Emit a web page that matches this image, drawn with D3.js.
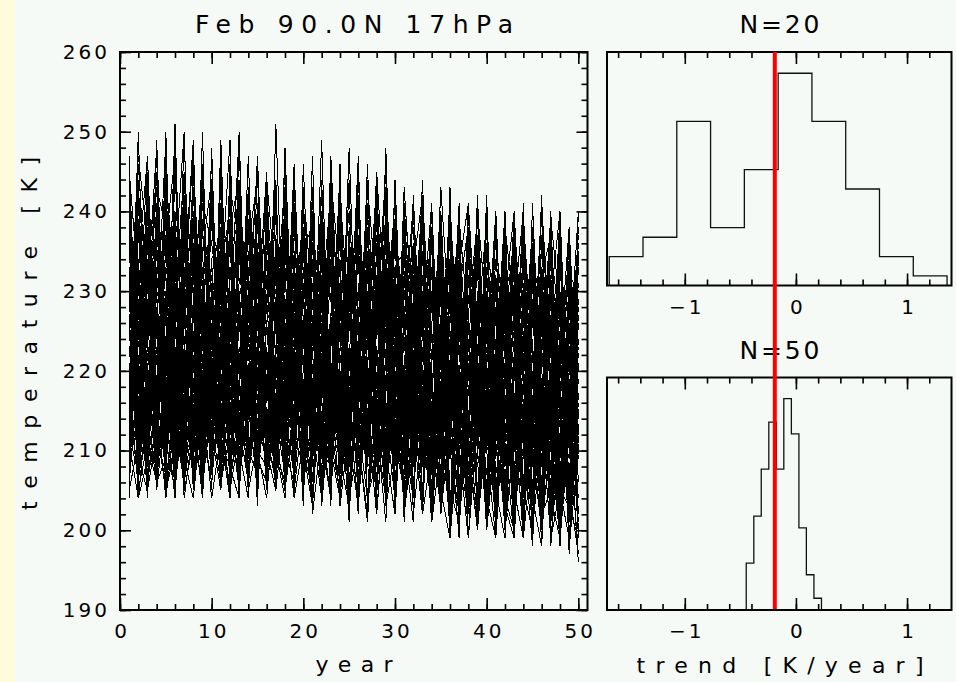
<!DOCTYPE html>
<html>
<head>
<meta charset="utf-8">
<script src="https://cdn.jsdelivr.net/npm/d3@7"></script>
<style>
  html, body { margin: 0; padding: 0; background: #f5faf7; }
  svg { display: block; }
  text { font-family: "DejaVu Sans", sans-serif; fill: #000; }
</style>
</head>
<body>
<div id="app"></div>
<script>
// years of each run
const years = d3.range(1, 51);

// Feb temperature at 90N 17hPa, one row per run (K)
const runs = [
  [231,214,245,208,222,239,206,218,233,212,241,209,226,215,236,207,229,243,211,220,234,203,217,238,213,227,209,240,221,204,232,216,244,210,225,199,219,235,204,228,214,237,200,222,211,230,198,217,233,202],
  [207,226,212,249,215,204,233,221,209,242,218,230,205,224,247,213,208,235,219,226,210,243,204,229,216,202,238,222,211,231,203,219,241,208,226,213,199,234,217,205,228,201,239,212,198,224,215,203,231,199],
  [219,205,238,227,210,246,213,225,207,231,216,204,244,222,211,235,206,223,240,209,217,228,212,246,202,220,233,215,205,239,224,210,218,201,236,213,226,202,242,211,219,200,230,204,223,198,236,214,201,226],
  [244,218,206,232,221,211,250,209,227,215,236,207,219,232,204,226,213,248,217,208,224,237,210,219,201,231,214,227,245,208,216,229,203,221,238,210,202,224,215,233,199,220,210,241,203,218,229,199,214,236],
  [212,237,224,205,243,216,208,229,245,210,222,213,238,206,220,229,243,207,215,225,209,236,219,203,228,242,211,217,204,233,214,224,209,237,202,218,229,212,202,225,237,204,215,199,227,211,220,198,232,210],
  [205,211,229,218,207,227,240,215,204,224,209,246,215,228,210,204,219,231,224,203,240,213,226,215,236,205,221,209,228,214,241,204,222,215,203,230,211,240,220,200,215,226,213,235,198,230,202,221,205,197],
  [226,208,215,241,204,219,212,233,207,248,211,206,223,216,205,241,228,210,206,233,215,209,247,220,208,212,230,202,219,243,209,215,226,205,213,238,200,221,205,216,232,203,199,219,236,200,212,228,197,217],
  [209,233,247,212,206,216,228,205,219,211,230,249,208,214,227,212,206,220,246,211,229,205,215,239,211,203,218,227,210,202,221,232,208,214,227,200,239,205,217,201,222,211,234,202,214,241,199,205,222,213],
  [240,206,219,209,230,205,217,243,212,206,221,214,208,235,219,245,210,204,227,216,205,219,234,209,221,247,203,214,212,224,208,236,213,203,218,242,210,202,229,214,204,220,199,231,210,201,217,237,203,199],
  [215,222,204,236,213,228,205,211,238,220,206,225,250,210,207,219,233,214,204,240,222,211,204,226,216,235,208,210,241,217,203,213,229,219,204,211,232,199,214,240,205,218,225,199,211,219,202,234,211,223],
  [232,210,221,206,250,209,214,222,206,215,244,210,218,206,231,211,222,209,235,206,213,244,208,218,230,211,202,236,215,209,226,210,238,201,210,224,215,203,236,210,199,229,213,204,238,214,199,211,226,200],
  [204,243,210,223,217,234,208,247,216,204,212,237,206,221,213,209,251,218,212,208,227,216,238,203,213,221,209,245,205,219,211,201,235,225,212,203,220,199,213,229,217,200,211,230,201,216,240,205,199,217],
  [221,214,232,206,209,245,219,206,224,213,233,205,212,242,208,223,205,216,229,212,247,204,219,211,234,204,225,213,201,231,219,208,216,241,205,199,213,226,205,221,201,236,205,213,224,198,221,213,202,240],
  [237,205,211,240,226,206,221,213,250,207,218,227,210,204,239,217,212,226,206,219,211,232,203,243,219,209,213,223,204,217,235,213,202,210,233,214,218,202,227,200,212,219,235,200,217,210,227,198,219,204],
  [210,228,206,214,209,233,250,211,206,228,205,219,230,215,209,206,237,211,244,214,203,226,213,209,222,217,241,204,232,211,205,220,240,209,214,229,202,212,241,216,203,224,200,216,205,231,211,201,216,229],
  [218,246,227,208,236,213,207,228,211,244,216,208,204,227,213,234,208,220,211,238,218,205,213,234,204,211,229,219,212,243,201,227,211,217,203,220,236,214,201,212,227,200,219,240,204,198,224,217,201,213],
  [246,212,208,226,214,220,211,239,205,218,209,233,221,211,246,205,215,242,210,213,231,219,209,216,248,213,204,209,221,226,214,241,219,204,223,210,200,232,218,203,240,213,205,221,199,227,204,219,236,211],
  [206,220,236,213,205,210,242,216,230,209,249,213,206,235,219,210,226,205,214,236,202,212,227,217,210,230,213,241,204,222,208,215,204,229,211,243,204,221,210,232,211,202,216,205,229,213,238,199,212,228],
  [227,207,213,248,211,231,209,204,216,234,207,221,243,209,222,214,210,239,208,227,216,249,210,204,223,208,219,210,237,202,228,211,242,213,205,216,223,211,200,219,214,233,203,225,212,242,202,223,198,215],
  [213,239,217,209,229,204,226,218,208,213,225,241,208,220,206,232,219,212,223,206,238,209,216,231,205,220,244,214,209,214,204,234,210,222,240,200,213,217,233,202,220,205,229,212,202,218,213,227,205,235],
  [208,215,223,211,242,218,205,234,213,221,206,212,217,247,210,208,223,216,233,210,205,219,241,212,215,203,233,218,211,227,202,212,220,203,238,216,210,199,220,213,232,204,200,222,215,205,232,202,213,197],
  [236,209,205,219,213,251,212,209,227,205,238,216,210,213,223,206,244,209,218,229,213,204,221,208,238,212,216,231,203,210,224,217,232,208,213,219,241,202,215,227,205,199,238,210,220,202,215,240,204,221],
  [211,227,240,207,218,209,223,206,214,247,212,204,229,217,208,221,211,233,205,215,242,210,205,226,213,245,209,222,214,204,236,202,213,218,229,205,201,222,211,242,202,216,213,205,233,218,201,212,223,202],
  [247,213,209,228,206,215,236,210,221,207,216,230,213,206,234,212,219,209,241,207,214,227,210,219,204,222,211,205,240,218,212,229,204,241,214,203,211,237,200,215,222,206,219,238,200,212,206,221,214,196],
  [216,206,231,214,210,222,208,246,209,216,227,208,240,211,215,209,229,206,213,222,209,234,216,211,229,214,208,235,210,222,216,209,230,201,217,212,227,213,221,204,199,218,226,203,215,230,204,199,225,210],
  [205,232,218,221,245,207,216,221,235,212,205,218,209,225,203,243,213,214,207,231,220,213,204,242,211,228,203,216,219,208,240,221,209,215,204,233,210,218,212,226,214,237,201,216,205,222,212,238,202,219],
  [229,211,243,205,216,227,204,213,210,229,216,243,214,208,219,211,207,225,217,242,210,216,232,204,219,210,237,208,225,213,209,219,202,230,209,224,204,212,242,201,228,212,214,234,210,200,219,206,230,212],
  [212,225,209,216,204,214,231,249,206,221,211,208,226,238,209,217,235,211,209,215,226,205,212,219,209,236,214,202,217,239,211,204,225,211,221,203,216,235,204,211,219,228,211,201,241,214,225,202,217,200],
  [241,216,206,238,223,206,217,210,226,207,234,212,219,205,227,245,209,218,232,210,203,239,214,204,217,220,212,229,208,215,209,242,215,205,226,212,231,205,217,202,224,201,210,216,222,204,236,215,205,227],
  [207,238,214,210,230,217,211,224,207,241,209,215,205,229,216,208,213,247,210,225,213,209,227,214,244,205,215,221,212,233,204,213,217,224,210,238,203,214,228,212,202,214,240,204,212,233,201,217,211,213],
  [223,209,228,245,207,210,229,206,218,213,223,207,236,214,212,223,207,214,227,208,243,212,216,209,223,204,219,210,248,209,214,226,205,218,213,201,225,210,200,236,212,221,203,214,232,205,213,199,220,237],
  [214,250,211,206,219,238,213,219,205,226,210,239,211,217,241,209,221,206,213,218,210,225,205,231,209,211,224,239,204,220,213,208,228,204,216,224,212,241,203,218,200,232,215,205,200,222,214,230,198,210],
  [233,204,216,222,211,205,239,209,243,211,230,206,214,221,206,226,208,239,204,211,236,209,219,213,204,240,210,208,218,225,202,215,235,211,203,217,234,204,222,205,216,202,222,238,203,214,223,204,218,201],
  [206,219,208,233,227,212,207,236,213,206,219,212,249,206,224,213,216,208,222,213,205,219,245,211,232,208,218,209,230,208,221,211,209,237,222,210,202,218,212,223,210,214,227,201,219,211,240,205,203,224],
  [219,229,205,212,240,208,222,210,216,230,206,228,208,212,235,210,205,229,206,246,215,223,211,205,218,211,201,223,214,209,243,225,213,208,232,201,219,205,230,200,221,240,202,222,212,202,217,224,213,231],
  [243,207,222,217,210,229,245,214,208,222,213,210,221,233,207,217,241,210,221,205,225,210,208,228,214,223,209,212,204,244,215,204,223,212,218,229,211,224,202,215,240,211,199,229,211,219,204,235,201,216],
  [209,244,212,230,205,219,210,227,219,209,246,215,206,217,222,205,228,214,208,230,212,217,236,209,203,217,229,211,234,212,210,227,204,219,202,213,241,203,210,220,205,218,233,212,203,237,210,199,215,204],
  [225,212,234,208,218,206,214,240,211,219,208,222,229,205,211,238,214,207,245,215,208,231,213,220,210,227,209,242,209,216,224,208,214,233,205,220,201,214,226,205,231,203,217,202,228,210,220,216,234,199],
  [211,204,209,215,247,222,206,214,229,208,214,205,217,239,209,206,219,224,212,208,219,204,225,212,233,210,214,205,219,228,210,235,212,203,213,240,218,203,215,238,213,201,211,223,215,202,205,239,210,222],
  [238,221,207,213,209,236,219,207,245,214,228,209,211,208,218,229,210,206,216,238,203,221,211,215,209,214,246,211,227,205,218,210,239,209,223,211,204,227,213,202,217,226,205,199,233,216,203,212,221,217],
  [228,241,219,213,236,247,224,209,231,216,222,238,244,207,215,229,233,211,226,240,218,205,227,236,221,214,243,230,209,224,232,238,217,203,222,228,211,235,219,207,213,226,237,204,219,231,210,200,224,217],
  [212,207,226,243,238,219,229,248,214,222,235,217,211,228,246,221,208,219,237,230,206,224,239,215,229,212,220,245,226,203,219,232,225,209,240,216,228,204,213,236,227,209,215,239,222,203,230,218,206,233],
  [245,231,214,206,221,234,217,239,226,210,218,227,204,241,232,213,222,238,209,225,236,219,211,230,208,241,223,217,233,214,209,224,242,221,230,212,205,227,239,218,234,222,207,225,213,240,219,201,228,210],
  [209,218,232,225,249,213,206,223,241,236,227,210,221,235,218,229,244,207,214,231,224,238,216,209,235,227,204,219,240,229,214,205,229,236,217,209,233,241,222,204,219,238,228,212,201,226,234,215,221,240],
  [236,224,247,216,210,229,221,212,235,244,213,232,227,219,208,239,226,215,245,220,231,212,223,244,217,206,229,237,214,221,238,215,209,226,233,220,214,207,230,226,207,214,231,220,236,211,205,229,217,224],
  [219,233,208,238,227,217,244,230,207,225,240,221,230,212,233,207,217,229,223,211,215,229,242,225,202,223,234,211,228,238,227,236,213,230,206,240,223,218,208,216,230,203,220,214,226,235,222,209,238,199],
  [231,212,225,229,216,240,208,246,223,213,206,226,240,231,221,216,236,224,208,243,228,240,209,221,230,218,212,227,243,210,220,209,232,215,243,225,211,229,235,213,223,217,210,236,208,221,229,240,211,219],
  [224,247,236,210,242,224,230,215,219,239,229,208,218,243,225,234,211,205,230,218,210,232,218,228,212,237,225,206,219,233,235,221,226,241,212,229,237,220,203,228,215,230,234,202,227,218,213,224,233,206],
  [214,220,241,234,229,208,227,236,212,229,223,237,208,221,213,226,230,242,219,226,239,221,233,207,226,230,216,239,224,207,211,228,220,233,224,203,219,238,226,231,229,224,212,228,219,232,237,206,220,215],
  [241,207,218,223,213,237,211,220,244,218,216,212,234,226,240,211,223,232,213,236,220,214,227,240,219,209,235,214,231,225,226,241,204,218,230,215,227,211,237,221,240,211,224,217,231,208,226,214,209,229],
  [226,238,230,248,219,211,235,226,233,207,232,219,226,214,222,244,231,210,227,214,203,235,221,216,236,225,208,232,218,236,216,213,237,228,219,234,208,232,216,212,218,235,206,231,214,225,210,232,227,222],
  [217,228,211,219,233,226,242,205,228,241,209,230,217,238,228,219,205,236,221,228,226,207,244,232,213,219,238,221,210,216,240,230,216,209,237,222,231,214,225,239,211,220,238,224,209,236,216,223,202,235],
  [208,215,238,230,226,245,219,232,216,221,241,225,213,229,236,216,227,221,239,209,233,224,212,238,225,240,219,226,236,212,207,222,230,213,226,238,215,224,211,233,226,208,221,237,223,214,230,219,236,212],
  [233,226,222,214,244,231,215,240,224,211,224,243,236,210,219,231,239,226,212,233,214,229,236,204,231,216,227,243,220,229,230,218,239,224,210,226,234,207,228,219,221,232,217,209,234,228,207,225,214,238],
  [222,234,216,241,208,220,237,211,239,230,219,214,229,236,244,225,213,232,216,223,242,217,223,230,220,234,210,225,238,219,223,235,211,238,221,231,219,236,214,227,236,225,229,213,218,241,222,211,230,220],
  [237,219,244,224,232,214,228,221,211,234,237,228,222,217,211,237,226,240,225,213,217,231,206,242,227,211,232,218,227,241,212,227,235,217,234,209,239,226,220,210,213,219,233,227,205,222,239,228,217,226],
  [211,230,225,236,215,239,232,227,246,215,228,235,239,223,230,212,219,227,233,221,229,210,238,219,215,228,221,234,213,226,228,219,224,232,215,240,222,213,234,224,232,214,227,221,238,211,226,234,223,209],
  [230,242,213,227,237,223,210,235,218,227,210,222,231,238,216,228,242,216,224,238,236,225,216,228,240,221,213,229,242,222,236,211,228,221,229,217,230,238,209,230,220,237,215,233,212,228,218,205,232,230],
  [220,211,233,244,222,230,236,218,231,238,233,240,215,230,224,209,234,229,219,226,211,237,229,213,234,219,240,208,225,232,219,233,242,207,225,228,213,231,223,216,227,229,240,218,226,233,212,222,238,214],
  [243,223,229,212,236,218,227,243,221,232,225,218,243,227,235,222,211,238,229,217,224,232,219,234,211,237,226,216,232,208,231,225,215,236,213,230,226,219,240,227,209,223,228,240,215,220,235,226,211,234]
];

// histograms of trends (K/year)
const edges20 = [-1.68, -1.376, -1.072, -0.768, -0.464, -0.16, 0.144, 0.448, 0.752, 1.056, 1.36];
const counts20 = [3, 5, 17, 6, 12, 22, 17, 10, 3, 1];
const edges50 = [-0.447, -0.379, -0.312, -0.244, -0.176, -0.109, -0.041, 0.027, 0.094, 0.162, 0.23];
const counts50 = [4, 8, 12, 16, 12, 18, 15, 7, 3, 1];
const obsTrend = -0.19;

const width = 956;
const height = 682;

const main = { left: 120, right: 587.5, top: 52, bottom: 610 };
const hTop = { left: 607, right: 951.5, top: 52, bottom: 285.5 };
const hBot = { left: 607, right: 951.5, top: 377.5, bottom: 610 };

const svg = d3.select('#app')
  .append('svg')
  .attr('width', width)
  .attr('height', height);

svg.append('rect').attr('width', width).attr('height', height).attr('fill', '#f5faf7');
svg.append('rect').attr('width', 15).attr('height', height).attr('fill', '#fffcdb');

// ---- main panel ----
const x = d3.scaleLinear().domain([0, 51]).range([main.left, main.right]);
const y = d3.scaleLinear().domain([190, 260]).range([main.bottom, main.top]);

svg.append('clipPath').attr('id', 'clipMain')
  .append('rect')
  .attr('x', main.left).attr('y', main.top)
  .attr('width', main.right - main.left).attr('height', main.bottom - main.top);

const line = d3.line()
  .x((d, i) => x(years[i]))
  .y(d => y(d));

svg.append('g')
  .attr('clip-path', 'url(#clipMain)')
  .selectAll('path')
  .data(runs)
  .enter()
  .append('path')
  .attr('d', line)
  .attr('fill', 'none')
  .attr('stroke', '#000')
  .attr('stroke-width', 1)
  .attr('shape-rendering', 'crispEdges');

function styleAxis(g, labels) {
  g.select('.domain').remove();
  g.selectAll('line').attr('stroke', '#000').attr('stroke-width', 1.6);
  if (labels) {
    g.selectAll('text')
      .attr('font-family', '"DejaVu Sans", sans-serif')
      .attr('font-size', 20)
      .attr('letter-spacing', '3px')
      .attr('fill', '#000');
  } else {
    g.selectAll('text').remove();
  }
}

function ticksBox(xs, ys, box, xMajor, xMinor, yMajor, yMinor, xLabels, yLabels) {
  const fmt = d3.format('d');
  const bottom = svg.append('g').attr('transform', `translate(0, ${box.bottom})`);
  bottom.append('g').call(d3.axisBottom(xs).tickValues(xMinor).tickSize(-6)).call(g => styleAxis(g, false));
  bottom.append('g').call(d3.axisBottom(xs).tickValues(xMajor).tickFormat(fmt).tickSize(-12).tickPadding(14))
    .call(g => styleAxis(g, xLabels));
  bottom.selectAll('text').attr('dx', '1.5px');

  const top = svg.append('g').attr('transform', `translate(0, ${box.top})`);
  top.append('g').call(d3.axisTop(xs).tickValues(xMinor).tickSize(-6)).call(g => styleAxis(g, false));
  top.append('g').call(d3.axisTop(xs).tickValues(xMajor).tickSize(-12)).call(g => styleAxis(g, false));

  if (ys) {
    const left = svg.append('g').attr('transform', `translate(${box.left}, 0)`);
    left.append('g').call(d3.axisLeft(ys).tickValues(yMinor).tickSize(-6)).call(g => styleAxis(g, false));
    left.append('g').call(d3.axisLeft(ys).tickValues(yMajor).tickFormat(fmt).tickSize(-11).tickPadding(10))
      .call(g => styleAxis(g, yLabels));

    const right = svg.append('g').attr('transform', `translate(${box.right}, 0)`);
    right.append('g').call(d3.axisRight(ys).tickValues(yMinor).tickSize(-6)).call(g => styleAxis(g, false));
    right.append('g').call(d3.axisRight(ys).tickValues(yMajor).tickSize(-11)).call(g => styleAxis(g, false));
  }

  svg.append('rect')
    .attr('x', box.left).attr('y', box.top)
    .attr('width', box.right - box.left).attr('height', box.bottom - box.top)
    .attr('fill', 'none').attr('stroke', '#000').attr('stroke-width', 2);
}

ticksBox(x, y, main, x.ticks(5), x.ticks(25), y.ticks(7), y.ticks(35), true, true);

// ---- histograms ----
const hx = d3.scaleLinear().domain([-1.7, 1.4]).range([hTop.left, hTop.right]);

function histogram(box, edges, counts) {
  const hy = d3.scaleLinear().domain([0, d3.max(counts) * 1.1]).range([box.bottom, box.top]);
  const pts = [[edges[0], 0]];
  counts.forEach((c, i) => {
    pts.push([edges[i], c]);
    pts.push([edges[i + 1], c]);
  });
  pts.push([edges[edges.length - 1], 0]);
  svg.append('path')
    .attr('d', d3.line().x(d => hx(d[0])).y(d => hy(d[1]))(pts))
    .attr('fill', 'none')
    .attr('stroke', '#111')
    .attr('stroke-width', 1.3);
  const minor = hx.ticks(15).filter(v => v > -1.7 && v < 1.4);
  ticksBox(hx, null, box, hx.ticks(3), minor, null, null, true, false);
}

histogram(hTop, edges20, counts20);
histogram(hBot, edges50, counts50);

// ---- titles and axis labels ----
function label(txt, px, py, size, len) {
  return svg.append('text')
    .attr('x', px).attr('y', py)
    .attr('text-anchor', 'middle')
    .attr('font-size', size)
    .attr('textLength', len)
    .attr('lengthAdjust', 'spacing')
    .text(txt);
}

label('Feb 90.0N 17hPa', 354, 33, 25, 318);
label('N=20', 779.5, 33, 25, 80);
label('N=50', 779.5, 359, 25, 80);
label('year', 354, 672, 22, 77);
label('trend [K/year]', 780, 673, 22, 287);
label('temperature [K]', 0, 0, 22, 353)
  .attr('transform', 'translate(37, 333.5) rotate(-90)');

// observed trend
svg.append('line')
  .attr('x1', hx(obsTrend)).attr('x2', hx(obsTrend))
  .attr('y1', hTop.top).attr('y2', hBot.bottom - 1)
  .attr('stroke', '#ff0000')
  .attr('stroke-width', 4);
</script>
</body>
</html>
